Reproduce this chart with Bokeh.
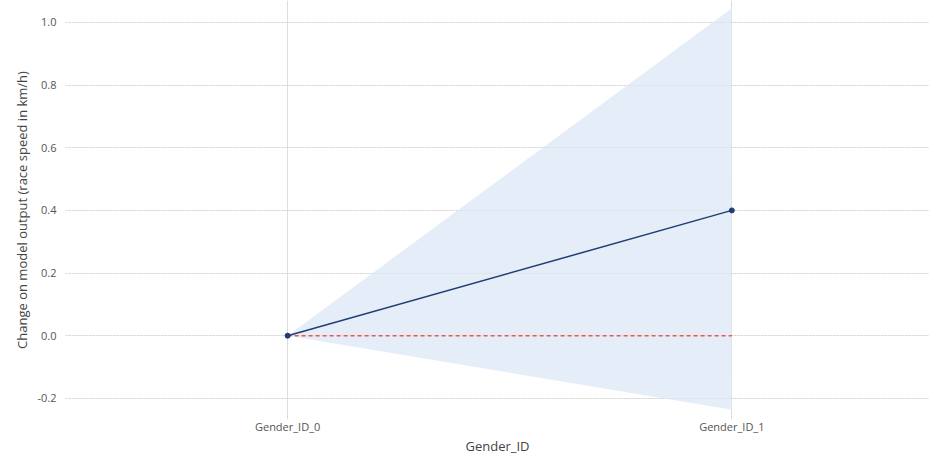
from bokeh.plotting import figure
from bokeh.models import FixedTicker, Range1d, ColumnDataSource, NumeralTickFormatter
from bokeh.embed import file_html
from bokeh.resources import INLINE

categories = ["Gender_ID_0", "Gender_ID_1"]
positions = [0, 1]
mean_effect = [0.0, 0.40]
upper_bound = [0.0, 1.045]
lower_bound = [0.0, -0.236]
baseline = [0.0, 0.0]
y_ticks = [-0.2, 0.0, 0.2, 0.4, 0.6, 0.8, 1.0]

src = ColumnDataSource(dict(x=positions, mean=mean_effect, upper=upper_bound,
                            lower=lower_bound, base=baseline))

p = figure(width=929, height=457, output_backend="svg", toolbar_location=None,
           x_range=Range1d(-0.5, 1.445), y_range=Range1d(-0.2675, 1.070),
           min_border_left=65, min_border_right=0, min_border_top=0, min_border_bottom=0)
p.outline_line_color = None

p.varea(x="x", y1="lower", y2="upper", source=src, fill_color="#dce8f6", fill_alpha=0.75)
p.line(x="x", y="base", source=src, line_color="#f0554a", line_dash="4 3", line_width=1.5)
p.line(x="x", y="mean", source=src, line_color="#1f3d73", line_width=1.5)
p.scatter(x="x", y="mean", source=src, size=5, fill_color="#1f3d73", line_color="#1f3d73")

p.xaxis.ticker = FixedTicker(ticks=positions)
p.xaxis.major_label_overrides = {pos: lab for pos, lab in zip(positions, categories)}
p.yaxis.ticker = FixedTicker(ticks=y_ticks)
p.yaxis.formatter = NumeralTickFormatter(format="0.0")
p.xaxis.axis_label = "Gender_ID"
p.yaxis.axis_label = "Change on model output (race speed in km/h)"

for ax in (p.xaxis[0], p.yaxis[0]):
    ax.axis_line_color = None
    ax.major_tick_line_color = None
    ax.minor_tick_line_color = None
    ax.major_label_text_font = "Open Sans"
    ax.major_label_text_font_size = "11px"
    ax.major_label_text_color = "#555555"
    ax.axis_label_text_font = "Open Sans"
    ax.axis_label_text_font_size = "13px"
    ax.axis_label_text_font_style = "normal"
    ax.axis_label_text_color = "#444444"

p.xaxis.major_label_standoff = -7
p.xaxis.axis_label_standoff = 0
p.yaxis.major_label_standoff = 3
p.yaxis.axis_label_standoff = 3

p.xgrid.grid_line_color = "#dddddd"
p.xgrid.grid_line_width = 1
p.ygrid.grid_line_color = "#d0d0d0"
p.ygrid.grid_line_dash = "2 1"
p.ygrid.grid_line_width = 1

open("out.html", "w").write(file_html(p, INLINE))
